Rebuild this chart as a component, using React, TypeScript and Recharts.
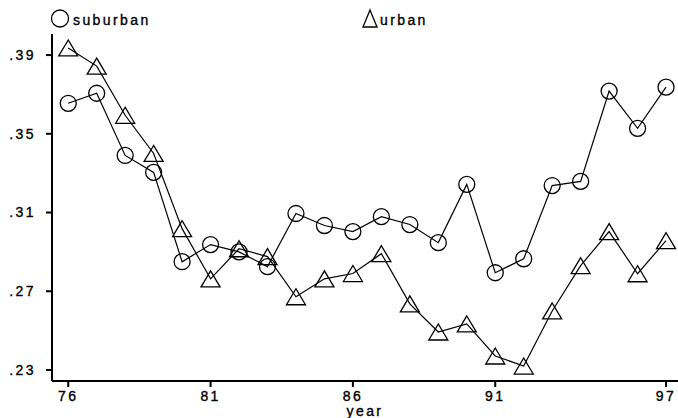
import React from 'react';
import { LineChart, Line, XAxis, YAxis } from 'recharts';

// values
const years = [76, 77, 78, 79, 80, 81, 82, 83, 84, 85, 86, 87, 88, 89, 90, 91, 92, 93, 94, 95, 96, 97];
const suburban = [0.3655, 0.3706, 0.339, 0.3304, 0.285, 0.2937, 0.29, 0.2825, 0.3095, 0.3034, 0.3003, 0.3079, 0.3039, 0.2947, 0.3243, 0.2794, 0.2865, 0.3237, 0.3258, 0.3717, 0.3528, 0.3737];
const urban = [0.3936, 0.3844, 0.3594, 0.34, 0.3018, 0.2763, 0.2916, 0.2876, 0.2672, 0.2763, 0.279, 0.2891, 0.2636, 0.2493, 0.2534, 0.2371, 0.232, 0.26, 0.283, 0.3003, 0.2789, 0.2957];
const xTicks = [76, 81, 86, 91, 97];
const yTicks = [0.23, 0.27, 0.31, 0.35, 0.39];

const data = years.map((y, i) => ({ year: y, suburban: suburban[i], urban: urban[i] }));

const font = {
  fontFamily: '"Liberation Sans", Arial, sans-serif',
  fontSize: 14,
  letterSpacing: 2.4,
  fill: '#000',
  stroke: '#000',
  strokeWidth: 0.35,
};

const circleDot = (props) => {
  const { cx, cy, index } = props;
  return <circle key={'c' + index} cx={cx} cy={cy} r={8} fill="none" stroke="#000" strokeWidth={1.3} />;
};

const triPoints = (cx, cy, hw = 9.5, hh = 8) => `${cx},${cy - hh} ${cx - hw},${cy + hh} ${cx + hw},${cy + hh}`;

const triangleDot = (props) => {
  const { cx, cy, index } = props;
  return <polygon key={'t' + index} points={triPoints(cx, cy)} fill="none" stroke="#000" strokeWidth={1.3} />;
};

const fmtY = (v) => v.toFixed(2).replace(/^0/, '');

export default function App() {
  return (
    <div style={{ position: 'absolute', left: 0, top: 0, width: 678, height: 418, background: '#fff' }}>
      <LineChart
        width={678}
        height={418}
        data={data}
        margin={{ top: 34, right: 0, left: 0, bottom: 0 }}
      >
        <XAxis
          dataKey="year"
          type="number"
          domain={[75.43, 97.42]}
          allowDataOverflow
          ticks={xTicks}
          height={37}
          tickSize={6}
          tickMargin={4}
          stroke="#000"
          strokeWidth={2}
          tick={font}
          label={{ value: 'year', position: 'insideBottom', offset: 2, style: font }}
        />
        <YAxis
          type="number"
          domain={[0.2244, 0.4007]}
          allowDataOverflow
          ticks={yTicks}
          tickFormatter={fmtY}
          width={52}
          tickSize={6}
          tickMargin={10}
          stroke="#000"
          strokeWidth={2}
          tick={font}
        />
        <Line
          dataKey="suburban"
          type="linear"
          stroke="#000"
          strokeWidth={1.2}
          dot={circleDot}
          isAnimationActive={false}
        />
        <Line
          dataKey="urban"
          type="linear"
          stroke="#000"
          strokeWidth={1.2}
          dot={triangleDot}
          isAnimationActive={false}
        />
      </LineChart>
      <svg width={678} height={34} style={{ position: 'absolute', left: 0, top: 0 }}>
        <circle cx={60} cy={18.5} r={8.5} fill="none" stroke="#000" strokeWidth={1.3} />
        <text x={73} y={25} style={font}>suburban</text>
        <polygon points={triPoints(370, 18.5, 7, 8.5)} fill="none" stroke="#000" strokeWidth={1.3} />
        <text x={380} y={25} style={font}>urban</text>
      </svg>
    </div>
  );
}
